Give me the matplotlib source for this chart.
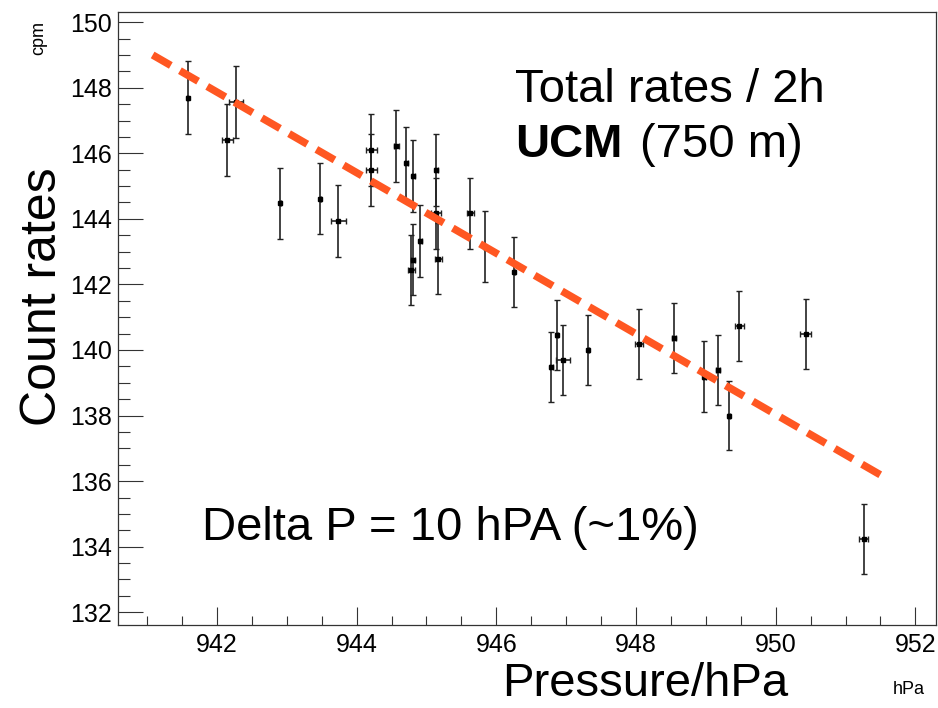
'''Count rate vs pressure, ROOT-style plot with a linear trend line'''
# import libraries
import matplotlib
matplotlib.use('Agg')
from matplotlib import pyplot as plt
from matplotlib.ticker import MultipleLocator

##########################################

# pressure of each 2h bin (hPa)
pressure = [941.58, 942.15, 942.27, 942.91, 943.48, 943.74, 944.21, 944.21,
            944.57, 944.71, 944.81, 945.14, 945.14, 945.63, 945.84, 946.26,
            944.91, 944.81, 944.78, 945.17, 946.79, 946.87, 946.96, 947.32,
            948.04, 948.54, 948.98, 949.18, 949.33, 949.48, 950.43, 951.26]
# count rates (cpm)
rates = [147.70, 146.41, 147.56, 144.47, 144.62, 143.94, 146.10, 145.49,
         146.23, 145.69, 145.30, 145.50, 144.17, 144.17, 143.15, 142.38,
         143.32, 142.76, 142.44, 142.79, 139.49, 140.46, 139.70, 140.00,
         140.19, 140.36, 139.19, 139.39, 138.00, 140.74, 140.49, 134.23]
# errors
pressure_err = [0.01, 0.08, 0.10, 0.01, 0.01, 0.11, 0.08, 0.08,
                0.04, 0.02, 0.02, 0.02, 0.07, 0.05, 0.01, 0.01,
                0.02, 0.03, 0.05, 0.05, 0.02, 0.02, 0.10, 0.01,
                0.06, 0.03, 0.02, 0.03, 0.01, 0.06, 0.08, 0.06]
rates_err = [1.11, 1.10, 1.10, 1.09, 1.09, 1.09, 1.10, 1.10,
             1.10, 1.10, 1.10, 1.10, 1.09, 1.09, 1.09, 1.08,
             1.09, 1.08, 1.08, 1.08, 1.07, 1.07, 1.07, 1.07,
             1.07, 1.07, 1.07, 1.07, 1.06, 1.07, 1.07, 1.06]

# trend line end points
fit_p = [941.08, 951.50]
fit_rate = [149.00, 136.19]

x_ticks = [942, 944, 946, 948, 950, 952]
y_ticks = [132, 134, 136, 138, 140, 142, 144, 146, 148, 150]

##########################################

plt.rcParams['font.family'] = ['Liberation Sans', 'DejaVu Sans']

fig = plt.figure(figsize=(9.38, 7.08), dpi=100)
ax = fig.add_axes([0.1255, 0.1172, 0.8727, 0.8663])

# data points with error bars
ax.errorbar(pressure, rates, xerr=pressure_err, yerr=rates_err, fmt='s',
            color='black', ms=3.2, ecolor='#222222', elinewidth=1.2,
            capsize=2.3, capthick=1.0, zorder=3)

# dashed trend line
ax.plot(fit_p, fit_rate, color='#ff5722', lw=5.4, ls=(0, (2.8, 1.4)),
        dash_capstyle='butt', zorder=4)

# axis ranges and ticks
ax.set_xlim(940.58, 952.30)
ax.set_ylim(131.61, 150.32)
ax.set_xticks(x_ticks)
ax.set_yticks(y_ticks)
ax.xaxis.set_minor_locator(MultipleLocator(0.5))
ax.yaxis.set_minor_locator(MultipleLocator(0.5))
ax.tick_params(axis='both', which='both', direction='in', color='#333333',
               width=0.8, labelsize=18, top=False, right=False)
ax.tick_params(axis='x', which='major', length=13, pad=6)
ax.tick_params(axis='x', which='minor', length=6.5)
ax.tick_params(axis='y', which='major', length=18, pad=4)
ax.tick_params(axis='y', which='minor', length=8.6)
for s in ax.spines.values():
    s.set_color('#333333')
    s.set_linewidth(0.9)

# axis titles (ROOT style units at the axis ends)
fig.text(645 / 938, 1 - 696 / 708, 'Pressure/hPa', fontsize=34,
         ha='center', va='baseline')
fig.text(43 / 938, 1 - 297 / 708, 'Count rates', fontsize=36, rotation=90,
         ha='center', va='center')
fig.text(39 / 938, 1 - 38 / 708, 'cpm', fontsize=13, rotation=90,
         ha='center', va='center')
fig.text(909 / 938, 1 - 690 / 708, 'hPa', fontsize=13,
         ha='center', va='center')

# annotations
ax.text(0.4853, 0.8533, 'Total rates / 2h', fontsize=34,
        transform=ax.transAxes, va='baseline')
ax.text(0.4853, 0.7636, 'UCM', fontsize=34, fontweight='bold',
        transform=ax.transAxes, va='baseline')
ax.text(0.638, 0.7636, '(750 m)', fontsize=34,
        transform=ax.transAxes, va='baseline')
ax.text(0.1026, 0.1386, 'Delta P = 10 hPA (~1%)', fontsize=34,
        transform=ax.transAxes, va='baseline')

fig.savefig('out.png', dpi=100)
